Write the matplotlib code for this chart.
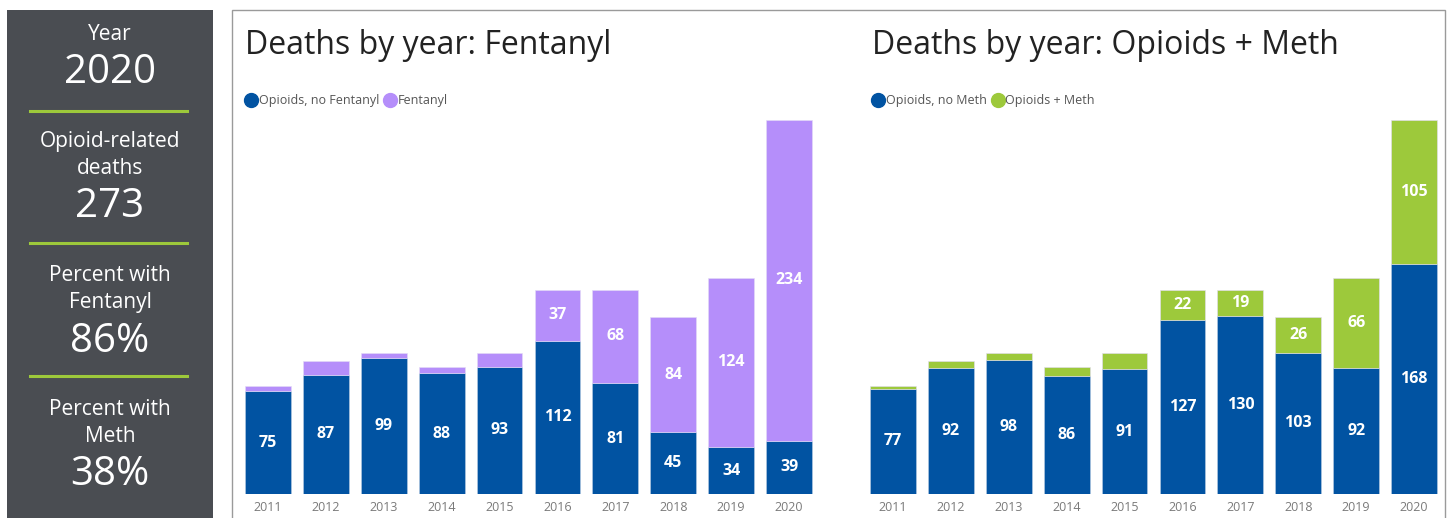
import matplotlib.pyplot as plt
import matplotlib.patches as mpatches
from matplotlib.lines import Line2D
import numpy as np

plt.rcParams['font.family'] = ['Open Sans', 'DejaVu Sans']

# ── Data ─────────────────────────────────────────────────────────────────────
years = ["2011", "2012", "2013", "2014", "2015", "2016", "2017", "2018", "2019", "2020"]
no_fentanyl = [75, 87, 99, 88, 93, 112, 81, 45, 34, 39]
fentanyl = [4, 10, 4, 5, 10, 37, 68, 84, 124, 234]
no_meth = [77, 92, 98, 86, 91, 127, 130, 103, 92, 168]
with_meth = [2, 5, 5, 7, 12, 22, 19, 26, 66, 105]

kpi_blocks = [("Year", "2020"),
              ("Opioid-related\ndeaths", "273"),
              ("Percent with\nFentanyl", "86%"),
              ("Percent with\nMeth", "38%")]

# ── Colours ──────────────────────────────────────────────────────────────────
C_BLUE = "#0153a2"
C_PURPLE = "#b58efa"
C_GREEN = "#9dc93b"
C_PANEL = "#4a4d52"
C_TICK = "#7a7a7a"

W, H = 1453, 518
fig = plt.figure(figsize=(W / 100, H / 100), dpi=100)
fig.patch.set_facecolor("white")

# ── Left KPI panel ───────────────────────────────────────────────────────────
fig.patches.append(mpatches.Rectangle((7 / W, 0), 206 / W, (H - 10) / H,
                                      transform=fig.transFigure,
                                      facecolor=C_PANEL, edgecolor="none", zorder=0))
cx = 110 / W
label_y = [35, 155, 289, 423]
value_y = [73, 207, 342, 475]
for (lab, val), ly, vy in zip(kpi_blocks, label_y, value_y):
    fig.text(cx, 1 - ly / H, lab, ha="center", va="center", color="white",
             fontsize=15, linespacing=1.35)
    fig.text(cx, 1 - vy / H, val, ha="center", va="center", color="white",
             fontsize=29)
for sy in [111, 243, 376]:
    fig.add_artist(Line2D([30 / W, 187 / W], [1 - sy / H, 1 - sy / H],
                          transform=fig.transFigure, color=C_GREEN, linewidth=2.2))

# ── White frame around charts ────────────────────────────────────────────────
fig.patches.append(mpatches.Rectangle((232 / W, -0.01), (1445 - 232) / W, (H - 10) / H + 0.01,
                                      transform=fig.transFigure,
                                      facecolor="white", edgecolor="#9a9a9a",
                                      linewidth=1.0, zorder=0))


def stacked(ax, base, top, c_top, title, legend_labels, title_x):
    x = np.arange(len(years))
    bw = 0.79
    ax.bar(x, base, width=bw, color=C_BLUE, edgecolor="#b9cde3", linewidth=0.4)
    ax.bar(x, top, width=bw, bottom=base, color=c_top, edgecolor="#e4dcf5", linewidth=0.4)
    for i in range(len(years)):
        if base[i] >= 15:
            ax.text(x[i], base[i] / 2, str(base[i]), ha="center", va="center",
                    color="white", fontsize=11.5, fontweight="bold")
        if top[i] >= 15:
            ax.text(x[i], base[i] + top[i] / 2, str(top[i]), ha="center", va="center",
                    color="white", fontsize=11.5, fontweight="bold")
    ax.set_xlim(-0.5, len(years) - 0.5)
    ax.set_ylim(0, 273)
    ax.set_xticks(x)
    ax.set_xticklabels(years, fontsize=9, color=C_TICK)
    ax.tick_params(axis="x", length=0, pad=5)
    ax.set_yticks([])
    for s in ax.spines.values():
        s.set_visible(False)
    ax.patch.set_alpha(0)
    ax.set_zorder(5)

    fig.text(title_x / W, 1 - 45 / H, title, ha="left", va="center",
             fontsize=23, color="#222222")
    handles = [Line2D([], [], marker="o", linestyle="none", markersize=10,
                      color=C_BLUE, label=legend_labels[0]),
               Line2D([], [], marker="o", linestyle="none", markersize=10,
                      color=c_top, label=legend_labels[1])]
    fig.legend(handles=handles, loc="center left",
               bbox_to_anchor=(title_x / W, 1 - 101 / H),
               ncol=2, frameon=False, fontsize=9, labelcolor="#555555",
               handletextpad=0.1, columnspacing=0.4, handlelength=1.0,
               borderaxespad=0, borderpad=0)


ax1 = fig.add_axes([239 / W, 24 / H, 579 / W, 374 / H])
stacked(ax1, no_fentanyl, fentanyl, C_PURPLE, "Deaths by year: Fentanyl",
        ["Opioids, no Fentanyl", "Fentanyl"], 245)

ax2 = fig.add_axes([864 / W, 24 / H, 579 / W, 374 / H])
stacked(ax2, no_meth, with_meth, C_GREEN, "Deaths by year: Opioids + Meth",
        ["Opioids, no Meth", "Opioids + Meth"], 872)

fig.savefig("out.png", dpi=100)
